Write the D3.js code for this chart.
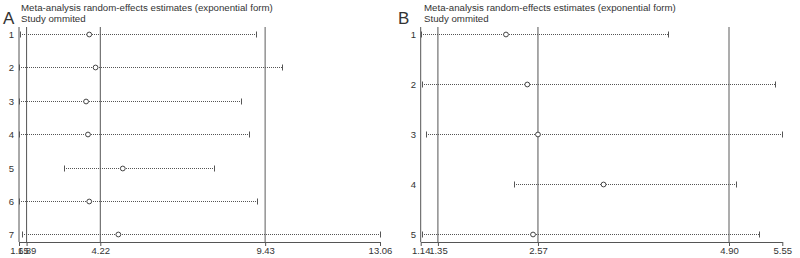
<!DOCTYPE html>
<html><head><meta charset="utf-8">
<script src="https://cdn.jsdelivr.net/npm/d3@7"></script>
<style>body{margin:0;background:#fff}svg{display:block}text{font-family:"Liberation Sans",Arial,sans-serif}</style>
</head><body><svg id="c" width="800" height="258"></svg>
<script>
// Panel A data
const studiesA = ["1","2","3","4","5","6","7"];
const estA = [3.87, 4.07, 3.77, 3.83, 4.93, 3.87, 4.79];
const lowA = [1.68, 1.66, 1.65, 1.65, 3.08, 1.65, 1.75];
const upA  = [9.15, 9.95, 8.67, 8.93, 7.82, 9.17, 13.06];
const ticksA = [1.65, 1.89, 4.22, 9.43, 13.06];
const overallA = [1.89, 4.22, 9.43];
// Panel B data
const studiesB = ["1","2","3","4","5"];
const estB = [2.18, 2.44, 2.57, 3.37, 2.51];
const lowB = [1.14, 1.15, 1.20, 2.28, 1.15];
const upB  = [4.15, 5.46, 5.55, 4.99, 5.26];
const ticksB = [1.14, 1.35, 2.57, 4.90, 5.55];
const overallB = [1.35, 2.57, 4.90];

const svg = d3.select("#c");
const panels = [
  {letter:"A", lx:3, tx:21, x0:19, x1:380, studies:studiesA, est:estA, low:lowA, up:upA, ticks:ticksA, overall:overallA, labX:14},
  {letter:"B", lx:398, tx:424, x0:420.7, x1:782.3, studies:studiesB, est:estB, low:lowB, up:upB, ticks:ticksB, overall:overallB, labX:416}
];
const yTop = 27, yAxis = 242;
panels.forEach(p => {
  const g = svg.append("g");
  const x = d3.scaleLinear().domain([p.ticks[0], p.ticks[p.ticks.length-1]]).range([p.x0, p.x1]);
  const xr = v => Math.round(x(v)) + 0.5;
  const y = d3.scalePoint().domain(p.studies).range([34, 234.3]);
  const yr = s => Math.round(y(s)) + 0.5;
  g.append("text").attr("x", p.lx).attr("y", 24).attr("font-size", 17).attr("fill","#333").text(p.letter);
  g.append("text").attr("x", p.tx).attr("y", 11).attr("font-size", 9.7).attr("fill","#333").text("Meta-analysis random-effects estimates (exponential form)");
  g.append("text").attr("x", p.tx).attr("y", 22).attr("font-size", 9.7).attr("fill","#333").text("Study ommited");
  g.append("line").attr("x1", p.x0).attr("x2", p.x0).attr("y1", yTop).attr("y2", yAxis).attr("stroke","#555").attr("stroke-width",1);
  p.overall.forEach((v,i) => {
    g.append("line").attr("x1", x(v)).attr("x2", x(v)).attr("y1", yTop).attr("y2", yAxis)
      .attr("stroke", i===2 ? "#8a8a8a" : "#555").attr("stroke-width", i===2 ? 1.4 : 1);
  });
  const ax = g.append("g").attr("transform", `translate(0,${yAxis})`)
    .call(d3.axisBottom(x).tickValues(p.ticks).tickFormat(d3.format(".2f")).tickSize(4).tickSizeOuter(0));
  ax.select(".domain").attr("stroke","#555");
  ax.selectAll(".tick line").attr("stroke","#555");
  ax.selectAll("text").attr("font-size", 9.5).attr("fill","#333").attr("dy","0.55em").attr("font-family","Liberation Sans, Arial, sans-serif");
  p.studies.forEach((s,i) => {
    const yy = yr(s);
    g.append("text").attr("x", p.labX).attr("y", yy+3).attr("text-anchor","end").attr("font-size",9.5).attr("fill","#333").text(s);
    g.append("line").attr("x1", Math.round(x(p.low[i]))).attr("x2", Math.round(x(p.up[i]))).attr("y1", yy).attr("y2", yy)
      .attr("stroke","#555").attr("stroke-width",1).attr("stroke-dasharray","1,1");
    [p.low[i], p.up[i]].forEach(v => g.append("line").attr("x1", xr(v)).attr("x2", xr(v)).attr("y1", yy-3).attr("y2", yy+3).attr("stroke","#555"));
    g.append("circle").attr("cx", x(p.est[i])).attr("cy", yy).attr("r", 2.4).attr("fill","#fff").attr("stroke","#444").attr("stroke-width",1);
  });
});
</script></body></html>
